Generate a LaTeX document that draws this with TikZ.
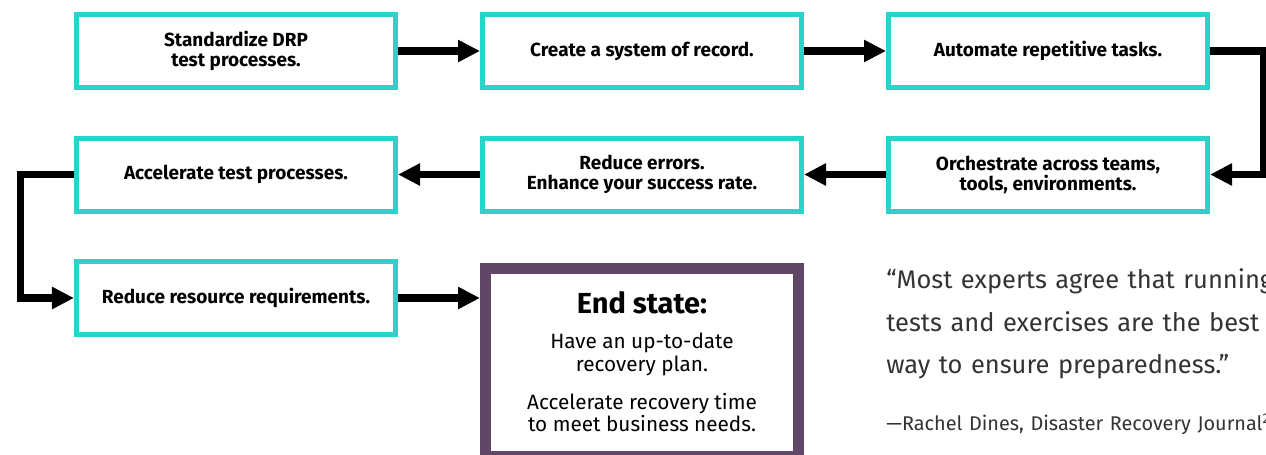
\documentclass[tikz,border=0pt]{standalone}
\usepackage{fontspec}
\setmainfont{Fira Sans}
\usetikzlibrary{arrows.meta,positioning}
\definecolor{hpeteal}{RGB}{42,210,201}
\definecolor{hpepurple}{RGB}{97,71,103}

\begin{document}
\begin{tikzpicture}[node distance=8.12cm, >={Triangle[length=4.4mm,width=4.2mm]},
    stepbox/.style={rectangle, draw=hpeteal, line width=1mm, minimum width=6.38cm, minimum height=1.46cm, align=center, font=\fontsize{10.8}{11.4}\selectfont\bfseries},
    endbox/.style={rectangle, draw=hpepurple, line width=2.2mm, minimum width=6.26cm, minimum height=3.76cm, align=center, font=\fontsize{11.8}{12.8}\selectfont},
    flow/.style={->, line width=1.45mm},
    quotetext/.style={inner sep=0pt, text width=11cm, align=left, text=black!80}]
    \useasboundingbox (-4.72,1.02) rectangle (20.6,-8.06);
    % first row, left to right
    \node [stepbox] (a1) {Standardize DRP\\ test processes.};
    \node [stepbox, right of=a1] (a2) {Create a system of record.};
    \node [stepbox, right of=a2] (a3) {Automate repetitive tasks.};
    % second row, right to left
    \node [stepbox, below of=a3, node distance=2.47cm] (b1) {Orchestrate across teams,\\tools, environments.};
    \node [stepbox, left of=b1] (b2) {Reduce errors.\\Enhance your success rate.};
    \node [stepbox, left of=b2] (b3) {Accelerate test processes.};
    % last row
    \node [stepbox, below of=b3, node distance=2.47cm] (c1) {Reduce resource requirements.};
    \node [endbox, below of=b2, node distance=3.75cm] (goal) {{\fontsize{16.5}{18}\selectfont\bfseries End state:}\\[7.1pt]
        Have an up-to-date\\recovery plan.\\[8.8pt]
        Accelerate recovery time\\to meet business needs.};
    % quote
    \node [quotetext, below=1.1cm of b1.south west, anchor=north west, font=\fontsize{14.5}{24.2}\selectfont] (quote)
        {“Most experts agree that running\\tests and exercises are the best\\way to ensure preparedness.”};
    \node [quotetext, below=0.68cm of quote.south west, anchor=north west, font=\fontsize{11.3}{13}\selectfont] (source)
        {—Rachel Dines, Disaster Recovery Journal\textsuperscript{2}};

    \draw[flow] (a1) -- (a2);
    \draw[flow] (a2) -- (a3);
    \draw[flow] (a3.east) -- ++(1.07,0) |- (b1.east);
    \draw[flow] (b1) -- (b2);
    \draw[flow] (b2) -- (b3);
    \draw[flow] (b3.west) -- ++(-1.07,0) |- (c1.west);
    \draw[flow] (c1.east) -- (c1.east -| goal.west);
\end{tikzpicture}
\end{document}
